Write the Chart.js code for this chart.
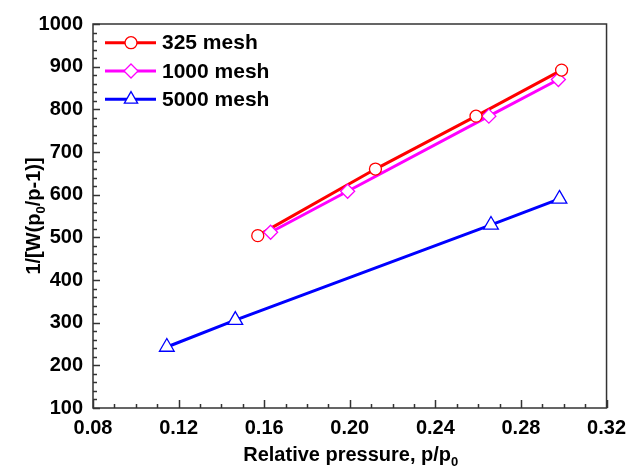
<!DOCTYPE html>
<html><head><meta charset="utf-8">
<script src="https://cdn.jsdelivr.net/npm/chart.js@4/dist/chart.umd.min.js"></script>
<style>html,body{margin:0;padding:0;background:#fff}#wrap{width:634px;height:467px;position:relative}</style>
</head><body><div id="wrap"><canvas id="c"></canvas></div>
<script>
// ---- data ----
const seriesNames = ['325 mesh', '1000 mesh', '5000 mesh'];
const x325  = [0.157, 0.212, 0.259, 0.299];
const y325  = [504, 660, 784, 892];
const x1000 = [0.163, 0.199, 0.265, 0.2975];
const y1000 = [512, 608, 784, 870];
const x5000 = [0.1145, 0.1465, 0.266, 0.298];
const y5000 = [243, 306, 529, 590];
const xTicks = [0.08, 0.12, 0.16, 0.20, 0.24, 0.28, 0.32];
const yTicks = [100, 200, 300, 400, 500, 600, 700, 800, 900, 1000];
const xTitle = 'Relative pressure, p/p';
const xTitleSub = '0';
const yTitleParts = ['1/[W(p', '0', '/p-1)]'];

const colors = ['#ff0000', '#ff00ff', '#0000ff'];
const styles = ['circle', 'rectRot', 'triangle'];
const radii = [6, 7, 8.5];
const xs = [x325, x1000, x5000];
const ys = [y325, y1000, y5000];
const pts = (a, b) => a.map((v, i) => ({x: v, y: b[i]}));

const datasets = [];
for (let i = 0; i < 3; i++) {
  datasets.push({
    label: seriesNames[i] + ' line', data: pts(xs[i], ys[i]), showLine: true,
    borderColor: colors[i], borderWidth: 3, pointRadius: 0, order: 10 + i, fill: false
  });
}
for (let i = 0; i < 3; i++) {
  datasets.push({
    label: seriesNames[i], data: pts(xs[i], ys[i]), showLine: false,
    pointStyle: styles[i], pointRadius: radii[i], pointBorderWidth: 1.3,
    pointBorderColor: colors[i], pointBackgroundColor: '#ffffff', order: i
  });
}

const FONT = '"Liberation Sans", Arial, sans-serif';
const AX = '#333333';

const decor = {
  id: 'decor',
  afterDatasetsDraw(chart) {
    const ctx = chart.ctx, a = chart.chartArea;
    const sx = chart.scales.x, sy = chart.scales.y;
    ctx.save();
    ctx.strokeStyle = AX; ctx.lineWidth = 1.5;
    ctx.strokeRect(a.left, a.top, a.right - a.left, a.bottom - a.top);
    // x ticks (inward)
    for (let k = 0; k <= 24; k++) {
      const v = 0.08 + k * 0.01;
      const px = Math.round(sx.getPixelForValue(v)) + 0.5;
      const len = (k % 4 === 0) ? 8 : 4;
      ctx.beginPath(); ctx.moveTo(px, a.bottom); ctx.lineTo(px, a.bottom - len); ctx.stroke();
    }
    // y ticks (inward)
    for (let k = 0; k <= 45; k++) {
      const v = 100 + k * 20;
      const py = Math.round(sy.getPixelForValue(v)) + 0.5;
      const len = (k % 5 === 0) ? 7 : 4;
      ctx.beginPath(); ctx.moveTo(a.left, py); ctx.lineTo(a.left + len, py); ctx.stroke();
    }
    // legend
    const rows = [42.7, 71, 99.3];
    for (let i = 0; i < 3; i++) {
      const y = rows[i];
      ctx.strokeStyle = colors[i]; ctx.lineWidth = 3;
      ctx.beginPath(); ctx.moveTo(105, y); ctx.lineTo(156, y); ctx.stroke();
      ctx.fillStyle = '#fff'; ctx.strokeStyle = colors[i]; ctx.lineWidth = 1.3;
      ctx.beginPath();
      drawShape(ctx, styles[i], radii[i], 131, y);
      ctx.fill(); ctx.stroke();
      ctx.fillStyle = '#000'; ctx.font = 'bold 21px ' + FONT;
      ctx.textAlign = 'left'; ctx.textBaseline = 'middle';
      ctx.fillText(seriesNames[i], 162, y + 1);
    }
    // x title
    ctx.fillStyle = '#000';
    ctx.font = 'bold 20px ' + FONT;
    ctx.textBaseline = 'alphabetic'; ctx.textAlign = 'left';
    const w1 = ctx.measureText(xTitle).width;
    ctx.font = 'bold 13px ' + FONT;
    const w2 = ctx.measureText(xTitleSub).width;
    const cx = (a.left + a.right) / 2 + 1;
    let x0 = cx - (w1 + w2) / 2;
    ctx.font = 'bold 20px ' + FONT;
    ctx.fillText(xTitle, x0, 461);
    ctx.font = 'bold 13px ' + FONT;
    ctx.fillText(xTitleSub, x0 + w1, 466);
    // y title
    ctx.save();
    ctx.translate(40, (a.top + a.bottom) / 2);
    ctx.rotate(-Math.PI / 2);
    ctx.font = 'bold 20px ' + FONT;
    const p0 = ctx.measureText(yTitleParts[0]).width;
    const p2 = ctx.measureText(yTitleParts[2]).width;
    ctx.font = 'bold 13px ' + FONT;
    const p1 = ctx.measureText(yTitleParts[1]).width;
    let t = -(p0 + p1 + p2) / 2;
    ctx.font = 'bold 20px ' + FONT;
    ctx.fillText(yTitleParts[0], t, 0);
    ctx.font = 'bold 13px ' + FONT;
    ctx.fillText(yTitleParts[1], t + p0, 5);
    ctx.font = 'bold 20px ' + FONT;
    ctx.fillText(yTitleParts[2], t + p0 + p1, 0);
    ctx.restore();
    ctx.restore();
  }
};

function drawShape(ctx, style, r, x, y) {
  if (style === 'circle') {
    ctx.arc(x, y, r, 0, Math.PI * 2);
  } else if (style === 'rectRot') {
    ctx.moveTo(x, y - r); ctx.lineTo(x + r, y); ctx.lineTo(x, y + r); ctx.lineTo(x - r, y); ctx.closePath();
  } else {
    const s = r * Math.sqrt(3) * 0.9;
    ctx.moveTo(x, y - r * 0.9); ctx.lineTo(x + s / 2, y + r * 0.45); ctx.lineTo(x - s / 2, y + r * 0.45); ctx.closePath();
  }
}

new Chart(document.getElementById('c'), {
  type: 'scatter',
  data: {datasets},
  plugins: [decor],
  options: {
    responsive: true, maintainAspectRatio: false, animation: false,
    layout: {padding: {top: 24, right: 22, left: 0, bottom: 0}},
    plugins: {legend: {display: false}, tooltip: {enabled: false}},
    scales: {
      x: {
        type: 'linear', min: 0.08, max: 0.32,
        afterBuildTicks: s => { s.ticks = xTicks.map(v => ({value: v})); },
        afterFit: s => { s.height = 59; },
        grid: {display: false, drawTicks: false},
        border: {display: false},
        ticks: {padding: 8, color: '#000', font: {family: FONT, size: 20, weight: 'bold'},
                callback: v => Number(v).toFixed(2), maxRotation: 0}
      },
      y: {
        type: 'linear', min: 100, max: 1000,
        afterBuildTicks: s => { s.ticks = yTicks.map(v => ({value: v})); },
        afterFit: s => { s.width = 93; },
        grid: {display: false, drawTicks: false},
        border: {display: false},
        ticks: {padding: 10, color: '#000', font: {family: FONT, size: 20, weight: 'bold'},
                callback: v => String(v)}
      }
    }
  }
});
</script>
</body></html>
